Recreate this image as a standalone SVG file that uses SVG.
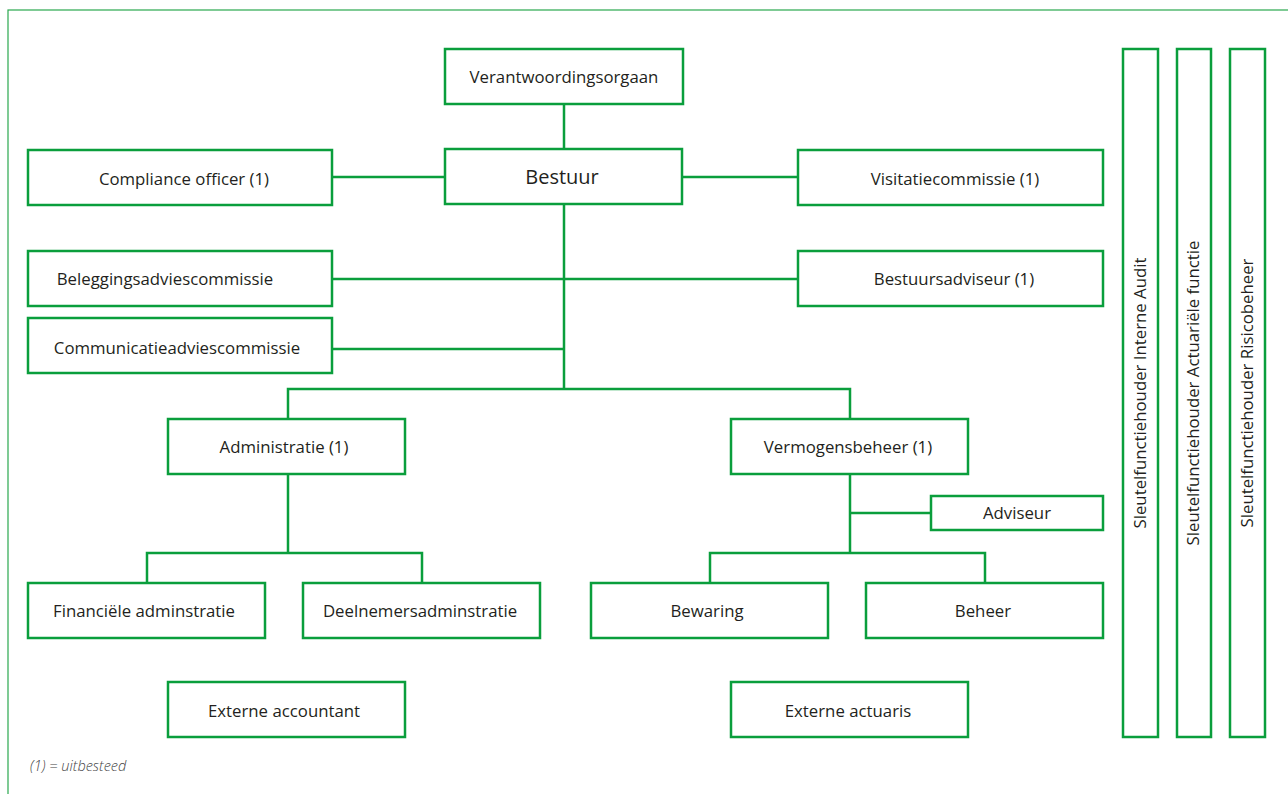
<svg xmlns="http://www.w3.org/2000/svg" width="1288" height="794" viewBox="0 0 1288 794">
<style>
.box{fill:#fff;stroke:#0a9e3c;stroke-width:2.5}
.ln{fill:none;stroke:#0a9e3c;stroke-width:2.5}
.t{font-family:"Open Sans","Noto Sans",sans-serif;font-size:16.8px;fill:#231f20;text-anchor:middle}
.big{font-size:20px}
.fn{font-family:"Open Sans","Noto Sans",sans-serif;font-size:14.5px;font-style:italic;font-weight:300;fill:#444}
</style>
<rect x="0" y="0" width="1288" height="794" fill="#fff"/>
<rect x="8" y="10" width="1300" height="800" fill="none" stroke="#2aa84f" stroke-width="1.2"/>
<g id="connectors">
<path class="ln" d="M564 104V149M564 204V389M332 177H445M682 177H798M332 279H798M332 349H564M288 419V389H850V419"/>
<path class="ln" d="M288 474V553M147 583V553H422V583"/>
<path class="ln" d="M850 474V553M850 513H931M710 583V553H985V583"/>
</g>
<g id="verantwoordingsorgaan"><rect class="box" x="445" y="49" width="238" height="55"/><text class="t" x="564" y="83">Verantwoordingsorgaan</text></g>
<g id="bestuur"><rect class="box" x="445" y="149" width="237" height="55"/><text class="t big" x="562" y="184">Bestuur</text></g>
<g id="compliance"><rect class="box" x="28" y="150" width="304" height="55"/><text class="t" x="184" y="185">Compliance officer (1)</text></g>
<g id="visitatie"><rect class="box" x="798" y="150" width="305" height="55"/><text class="t" x="955" y="185">Visitatiecommissie (1)</text></g>
<g id="beleggings"><rect class="box" x="28" y="251" width="304" height="55"/><text class="t" x="165" y="285">Beleggingsadviescommissie</text></g>
<g id="bestuursadviseur"><rect class="box" x="798" y="251" width="305" height="55"/><text class="t" x="954" y="285">Bestuursadviseur (1)</text></g>
<g id="communicatie"><rect class="box" x="28" y="318" width="304" height="55"/><text class="t" x="177" y="354">Communicatieadviescommissie</text></g>
<g id="administratie"><rect class="box" x="168" y="419" width="237" height="55"/><text class="t" x="284" y="453">Administratie (1)</text></g>
<g id="vermogensbeheer"><rect class="box" x="731" y="419" width="237" height="55"/><text class="t" x="848" y="453">Vermogensbeheer (1)</text></g>
<g id="adviseur"><rect class="box" x="931" y="496" width="172" height="34"/><text class="t" x="1017" y="519">Adviseur</text></g>
<g id="financiele"><rect class="box" x="28" y="583" width="237" height="55"/><text class="t" x="144" y="617">Financiële adminstratie</text></g>
<g id="deelnemers"><rect class="box" x="303" y="583" width="237" height="55"/><text class="t" x="420" y="617">Deelnemersadminstratie</text></g>
<g id="bewaring"><rect class="box" x="591" y="583" width="237" height="55"/><text class="t" x="707" y="617">Bewaring</text></g>
<g id="beheer"><rect class="box" x="866" y="583" width="237" height="55"/><text class="t" x="983" y="617">Beheer</text></g>
<g id="accountant"><rect class="box" x="168" y="682" width="237" height="55"/><text class="t" x="284" y="717">Externe accountant</text></g>
<g id="actuaris"><rect class="box" x="731" y="682" width="237" height="55"/><text class="t" x="848" y="717">Externe actuaris</text></g>
<g id="sf-audit"><rect class="box" x="1123" y="49" width="35" height="688"/><text class="t" transform="translate(1146 393) rotate(-90)">Sleutelfunctiehouder Interne Audit</text></g>
<g id="sf-actuarieel"><rect class="box" x="1177" y="49" width="34" height="688"/><text class="t" transform="translate(1199 393) rotate(-90)">Sleutelfunctiehouder Actuariële functie</text></g>
<g id="sf-risico"><rect class="box" x="1230" y="49" width="35" height="688"/><text class="t" transform="translate(1253 393) rotate(-90)">Sleutelfunctiehouder Risicobeheer</text></g>
<text class="fn" x="30" y="771">(1) = uitbesteed</text>
</svg>
